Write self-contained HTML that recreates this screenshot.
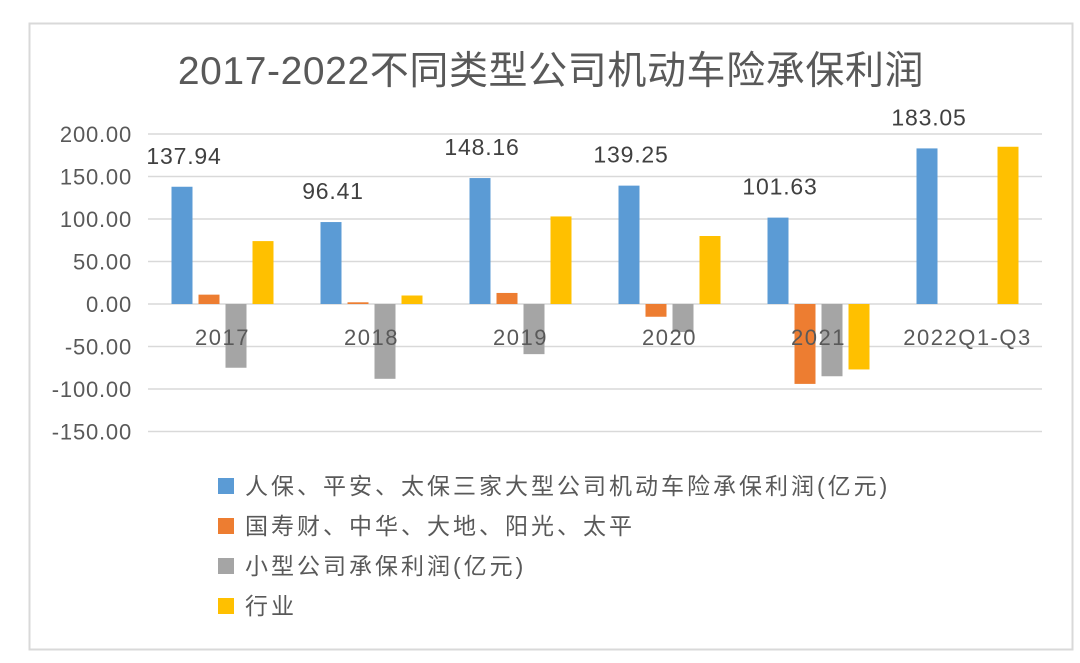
<!DOCTYPE html>
<html><head><meta charset="utf-8">
<style>
body{margin:0;background:#fff;width:1080px;height:658px;overflow:hidden;font-family:"Liberation Sans","Noto Sans CJK SC",sans-serif}
svg text{font-family:"Liberation Sans","Noto Sans CJK SC",sans-serif}
</style></head>
<body>
<svg id="chart" width="1080" height="658">
<rect x="29.5" y="23.5" width="1043" height="626" fill="#fff" stroke="#d9d9d9" stroke-width="2"/>
<text x="551" y="84" text-anchor="middle" font-size="39" letter-spacing="0.6" fill="#595959">2017-2022不同类型公司机动车险承保利润</text>
<g id="grid"></g><g id="bars"></g><g id="labels"></g><g id="legend"></g>
</svg>
<script>
const categories=["2017","2018","2019","2020","2021","2022Q1-Q3"];
const bigThree=[137.94,96.41,148.16,139.25,101.63,183.05];
const midFive=[11,2,13,-15,-94,0];
const smallCo=[-75,-88,-59,-33,-85,0];
const industry=[74,10,103,80,-77,185];
const yTicks=[200,150,100,50,0,-50,-100,-150];
const seriesNames=["人保、平安、太保三家大型公司机动车险承保利润(亿元)","国寿财、中华、大地、阳光、太平","小型公司承保利润(亿元)","行业"];
const colors=["#5b9bd5","#ed7d31","#a5a5a5","#ffc000"];
const NS="http://www.w3.org/2000/svg";
const x0=148,x1=1042,y0v=304,k=0.85;
const y=v=>y0v-v*k;
const gw=(x1-x0)/categories.length;
const gc=i=>x0+gw*(i+0.5);
function mk(tag,attrs,parent){const e=document.createElementNS(NS,tag);for(const a in attrs)e.setAttribute(a,attrs[a]);document.getElementById(parent).appendChild(e);return e;}
yTicks.forEach(t=>{
 const l=mk('line',{x1:x0,x2:x1,y1:y(t),y2:y(t),stroke:'#d9d9d9','stroke-width':1.5},'grid');
 
 
 const tx=mk('text',{x:132,y:y(t)+8,'text-anchor':'end','font-size':22,'letter-spacing':0.8,fill:'#595959'},'grid');
 tx.textContent=t.toFixed(2);
 
 
});
const series=[bigThree,midFive,smallCo,industry];
const offs=[-40.5,-13.5,13.5,40.5];
series.forEach((s,si)=>{
 s.forEach((v,i)=>{
  if(v===0)return;
  const cx=gc(i)+offs[si];
  const r=mk('rect',{x:cx-10.5,width:21,y:Math.min(y(v),y(0)),height:Math.abs(y(v)-y(0)),fill:colors[si]},'bars');
  
  
 });
});
categories.forEach((c,i)=>{
 const t=mk('text',{x:gc(i),y:345,'text-anchor':'middle','font-size':22,'letter-spacing':1.5,fill:'#595959'},'labels');
 t.textContent=c;
 
 
 const vl=mk('text',{x:gc(i)+offs[0]+2,y:y(bigThree[i])-23,'text-anchor':'middle','font-size':23,'letter-spacing':0.8,fill:'#404040'},'labels');
 vl.textContent=bigThree[i].toFixed(2);
 
 
});
seriesNames.forEach((n,i)=>{
 const cy=486+i*40;
 const r=mk('rect',{x:218,y:cy-8,width:16,height:16,fill:colors[i]},'legend');
 
 
 const t=mk('text',{x:245,y:cy+8,'font-size':23,'letter-spacing':3,fill:'#595959'},'legend');
 t.textContent=n;
 
 
});
</script>
</body></html>
